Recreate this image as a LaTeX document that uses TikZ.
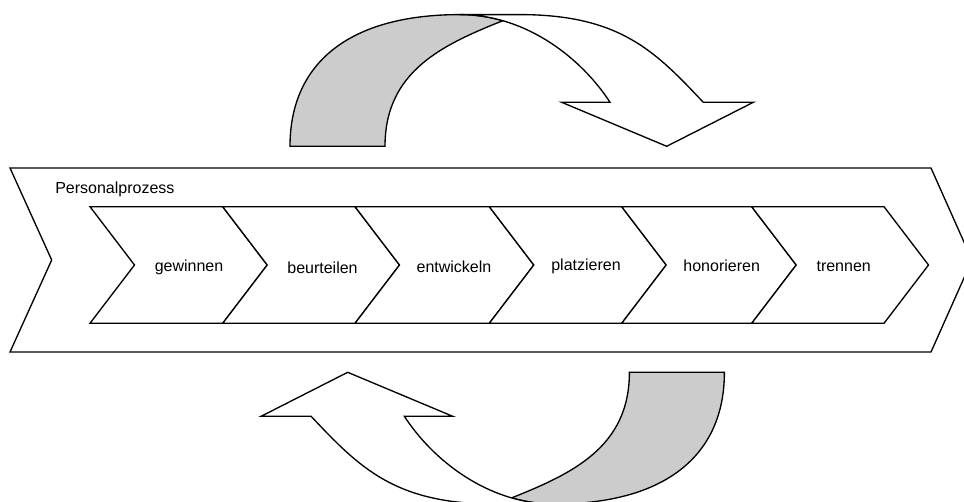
\documentclass[tikz,border=0pt]{standalone}
\usepackage{fontspec}
\setmainfont{Liberation Sans}
\definecolor{backgray}{RGB}{204,204,204}
\tikzset{
  shape line/.style={draw=black, line width=1pt, line join=miter},
  back face/.style={shape line, fill=backgray},
  front face/.style={shape line, fill=white},
  label text/.style={font=\fontsize{12}{14}\selectfont, anchor=base, inner sep=0pt},
  % curved turn-over arrow: shaded back band on the left, white front with head on the right
  turn arrow/.pic={
    \path[back face]
      (290,146.3) .. controls (290,64) and (348,14.6) .. (460,14.6)
      .. controls (474.96,14.6) and (489.29,16.81) .. (502.82,20.71)
      .. controls (442.5,44.8) and (385,71.3) .. (385,146.3) -- cycle;
    \path[front face]
      (460,14.6) .. controls (528,14.6) and (582.9,60.3) .. (610,102.3)
      -- (561.7,102.3) -- (666.7,146.3) -- (753.3,102.3) -- (703.3,102.3)
      .. controls (655.3,51.4) and (620,14.7) .. (520,14.6) -- cycle;
  }
}
\begin{document}
\begin{tikzpicture}[x=0.75pt,y=-0.75pt]
  \clip (0,0) rectangle (964,502);
  \fill[white] (0,0) rectangle (964,502);

  % enclosing process chevron
  \draw[shape line, fill=white] (10,168) -- (931,168) -- (972,260) -- (931,352)
    -- (10,352) -- (51.7,260) -- cycle;
  \node[label text, anchor=base west] (proc) at (55,193.3) {Personalprozess};

  % the six process steps
  \foreach \a/\b in {90/222.7, 222.7/355, 355/489.3, 489.3/621.7, 621.7/751.7, 751.7/884}
    \draw[shape line, fill=white] (\a,206.7) -- (\b,206.7) -- (\b+44.5,265)
      -- (\b,323.3) -- (\a,323.3) -- (\a+44.5,265) -- cycle;

  \node[label text] (s1) at (189,271.7) {gewinnen};
  \node[label text] (s2) at (322.5,273.3) {beurteilen};
  \node[label text] (s3) at (454,272.7) {entwickeln};
  \node[label text] (s4) at (586,271) {platzieren};
  \node[label text] (s5) at (721.7,271.7) {honorieren};
  \node[label text] (s6) at (843.7,271.7) {trennen};

  % cycle arrows above and below
  \pic at (0,0) {turn arrow};
  \pic[rotate=180] at (1014.4,518.6) {turn arrow};
\end{tikzpicture}
\end{document}
